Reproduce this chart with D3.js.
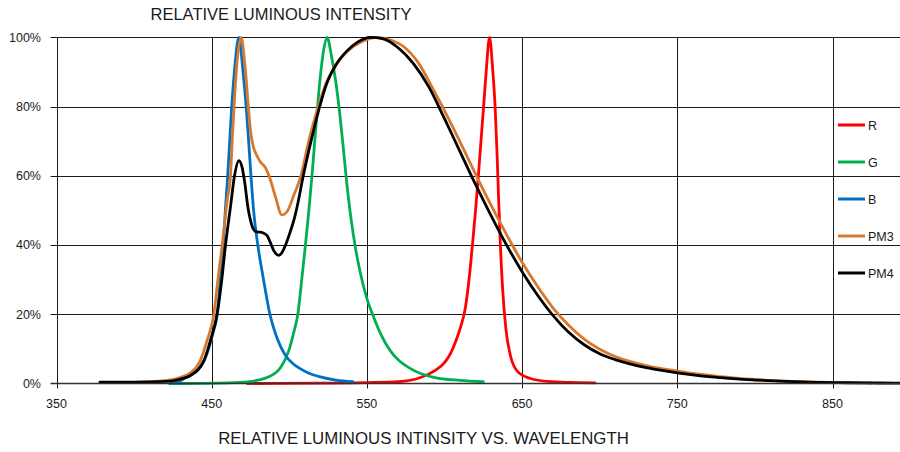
<!DOCTYPE html>
<html>
<head>
<meta charset="utf-8">
<script src="https://cdn.jsdelivr.net/npm/d3@7"></script>
<style>
  html, body { margin: 0; padding: 0; background: #fff; }
  svg { display: block; }
  text { font-family: "Liberation Sans", Arial, sans-serif; fill: #1a1a1a; }
</style>
</head>
<body>
<svg id="chart" width="900" height="452"></svg>
<script>
// Relative luminous intensity (%) against wavelength (nm)
const xTicks = [350, 450, 550, 650, 750, 850];
const yTicks = [0, 20, 40, 60, 80, 100];

const seriesNames = ["R", "G", "B", "PM3", "PM4"];
const seriesColors = ["#ff0000", "#00b050", "#0070c0", "#d7782f", "#000000"];

const rWave  = [473, 520, 550, 570, 585, 594, 600, 604, 607.5, 610.5, 613.3, 615.8, 618, 620, 621.8, 623.5, 625.2, 627, 629, 631, 632.6, 633.8, 634.9, 636, 637.5, 639.5, 642.5, 647, 655, 666, 680, 697];
const rValue = [0, 0.1, 0.25, 0.5, 1.8, 3.8, 6, 8.8, 12.5, 16.5, 21.5, 30, 40, 50, 60, 70, 80, 91, 100, 91, 80, 67, 53, 40, 27, 16, 8, 3.5, 1.5, 0.6, 0.3, 0.2];

const gWave  = [425, 460, 473, 486, 494.5, 499.7, 503, 505.5, 508, 510.4, 512.6, 514.6, 516.4, 518.2, 520.3, 522.2, 524.4, 527, 530, 532.5, 534.8, 537, 539.5, 542.5, 546, 550, 554.5, 559, 565, 571, 577, 585, 593, 610, 625];
const gValue = [0, 0.2, 0.5, 1.8, 4.7, 9.5, 15, 20, 30, 40, 50, 60, 70, 80, 90, 96.5, 100, 95, 87, 78, 68, 58, 48.5, 39.5, 31.5, 24.5, 19, 14.2, 9.5, 6.5, 4.6, 2.8, 1.8, 0.9, 0.5];

const bWave  = [423, 430, 434, 440, 443, 448, 451, 453.5, 455.5, 457.4, 458.8, 460.3, 461.6, 462.9, 464.6, 467.5, 470.2, 472.2, 473.8, 475.3, 477, 479.7, 483.4, 487.5, 491, 494.3, 498, 503, 507, 512, 520, 530, 541];
const bValue = [0, 0.8, 2, 3.8, 5, 10, 15, 20, 30, 40, 50, 60, 70, 80, 90, 100, 90, 80, 70, 60, 50, 40, 30, 20, 14.5, 10.8, 7.8, 5.5, 4.3, 3.1, 1.9, 1, 0.5];

const pm3Wave  = [380, 400, 420, 430, 436, 442, 447, 451.4, 454, 456.8, 460, 462.1, 463.2, 464.4, 466.2, 469, 471.6, 473.6, 475, 476.5, 478.9, 481.4, 484.7, 487.9, 491.1, 495.2, 499, 503, 507.5, 512.5, 518, 523.5, 530, 538, 547, 557, 565, 574, 583.5, 592, 600, 610, 620, 630, 640, 650, 660, 670, 680, 690, 700, 710, 720, 730, 740, 750, 760, 770, 780, 790, 800, 820, 840, 860, 875];
const pm3Value = [0.3, 0.3, 0.8, 1.8, 3, 6, 12.4, 20, 30, 40, 53, 60, 70, 80, 92, 100, 91, 80, 73, 69, 66, 64, 62.3, 58.7, 53.9, 48.7, 50, 54.5, 60, 70, 79, 86.5, 92, 96.2, 98.8, 100, 99.3, 97.2, 92.4, 85.6, 78.8, 69.8, 60.5, 51.5, 43, 35, 28, 21.8, 16.8, 12.8, 9.9, 7.8, 6.3, 5.2, 4.3, 3.6, 2.9, 2.4, 1.9, 1.5, 1.2, 0.7, 0.4, 0.25, 0.15];

const pm4Wave  = [378, 400, 421, 430, 436.3, 445, 449.2, 453.5, 456.5, 458.9, 462.1, 464.7, 467.5, 469.8, 471.3, 473.3, 475, 477.1, 479, 481.4, 484, 485.7, 488, 490, 493.3, 495.5, 497.6, 500, 502.9, 505, 509, 514, 519, 524, 530, 537, 544, 552, 560, 569.5, 580, 590, 600, 610, 620, 630, 640, 650, 660, 670, 680, 690, 700, 710, 720, 730, 740, 750, 760, 770, 780, 790, 800, 820, 840, 860, 880, 900];
const pm4Value = [0.4, 0.4, 0.6, 1.3, 2.3, 6.6, 12.4, 20, 30, 40, 51, 60, 64.4, 62, 58, 51, 47.1, 44.4, 43.8, 43.7, 43.3, 42.7, 40.5, 38.4, 37, 38, 40, 43, 47.1, 51, 60, 70, 79, 86.5, 92, 96, 98.6, 100, 99.6, 97.2, 92.4, 85.6, 76.5, 67, 57.5, 48.5, 40, 32.3, 25.5, 19.6, 14.8, 11.2, 8.6, 6.9, 5.6, 4.6, 3.8, 3.1, 2.5, 2.0, 1.6, 1.25, 1.0, 0.6, 0.35, 0.22, 0.14, 0.08];

const waves  = [rWave, gWave, bWave, pm3Wave, pm4Wave];
const values = [rValue, gValue, bValue, pm3Value, pm4Value];

const svg = d3.select("#chart");
const plotLeft = 56.5, plotTop = 37.3, plotBottom = 383.5;

const x = d3.scaleLinear().domain([350, 900]).range([plotLeft, plotLeft + 550 * 1.552]);
const y = d3.scaleLinear().domain([0, 100]).range([plotBottom, plotTop]);

// horizontal grid lines with small ticks left of the axis
svg.append("g")
  .selectAll("line")
  .data(yTicks.filter(d => d > 0))
  .join("line")
  .attr("x1", plotLeft - 6).attr("x2", 900)
  .attr("y1", d => Math.round(y(d)) + 0.5).attr("y2", d => Math.round(y(d)) + 0.5)
  .attr("stroke", "#1a1a1a").attr("stroke-width", 1);

// vertical grid lines with small ticks below the axis
svg.append("g")
  .selectAll("line")
  .data(xTicks)
  .join("line")
  .attr("x1", d => Math.round(x(d)) + 0.5).attr("x2", d => Math.round(x(d)) + 0.5)
  .attr("y1", plotTop).attr("y2", plotBottom + 5)
  .attr("stroke", "#1a1a1a").attr("stroke-width", 1);

// y tick labels
svg.append("g")
  .selectAll("text")
  .data(yTicks)
  .join("text")
  .attr("x", 41).attr("y", d => y(d))
  .attr("dy", "0.35em")
  .attr("text-anchor", "end")
  .attr("font-size", 12.5)
  .text(d => d + "%");

// x tick labels
svg.append("g")
  .selectAll("text")
  .data(xTicks)
  .join("text")
  .attr("x", d => x(d)).attr("y", 408)
  .attr("text-anchor", "middle")
  .attr("font-size", 12.5)
  .text(d => d);

// spectra
const line = d3.line()
  .x(d => x(d[0]))
  .y(d => y(d[1]))
  .curve(d3.curveMonotoneX);

svg.append("g")
  .selectAll("path")
  .data(seriesNames.map((name, i) => waves[i].map((w, j) => [w, values[i][j]])))
  .join("path")
  .attr("d", line)
  .attr("fill", "none")
  .attr("stroke", (d, i) => seriesColors[i])
  .attr("stroke-width", 2.8)
  .attr("stroke-linejoin", "round")
  .attr("stroke-linecap", "round");

// baseline axis
svg.append("line")
  .attr("x1", plotLeft - 6).attr("x2", 900)
  .attr("y1", plotBottom).attr("y2", plotBottom)
  .attr("stroke", "#333").attr("stroke-width", 1.6);

// left axis
svg.append("line")
  .attr("x1", Math.round(plotLeft) + 0.5).attr("x2", Math.round(plotLeft) + 0.5)
  .attr("y1", plotTop).attr("y2", plotBottom)
  .attr("stroke", "#1a1a1a").attr("stroke-width", 1);

// legend
const legend = svg.append("g")
  .selectAll("g")
  .data(seriesNames)
  .join("g")
  .attr("transform", (d, i) => `translate(838, ${125 + i * 37})`);
legend.append("line")
  .attr("x1", 0).attr("x2", 27).attr("y1", 0).attr("y2", 0)
  .attr("stroke", (d, i) => seriesColors[i])
  .attr("stroke-width", 3);
legend.append("text")
  .attr("x", 30).attr("dy", "0.36em")
  .attr("font-size", 12.5)
  .text(d => d);

// titles
svg.append("text")
  .attr("x", 281).attr("y", 20)
  .attr("text-anchor", "middle")
  .attr("font-size", 16.5)
  .text("RELATIVE LUMINOUS INTENSITY");

svg.append("text")
  .attr("x", 423.5).attr("y", 444)
  .attr("text-anchor", "middle")
  .attr("font-size", 16.8)
  .text("RELATIVE LUMINOUS INTINSITY VS. WAVELENGTH");
</script>
</body>
</html>
